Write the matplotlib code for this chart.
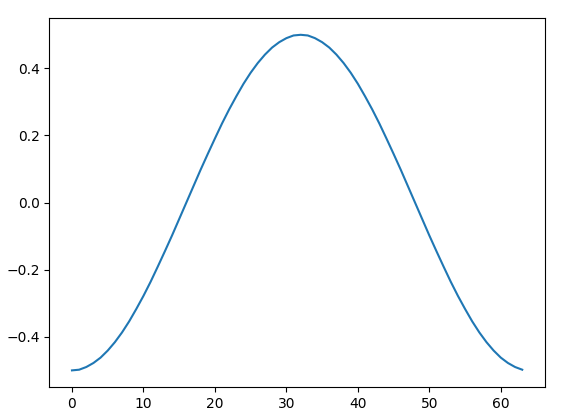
import matplotlib
matplotlib.use("Agg")
import matplotlib.pyplot as plt

# valeurs, indice 0 à 63
samples = list(range(64))
values = [
    -0.500, -0.498, -0.490, -0.478, -0.462, -0.441, -0.416, -0.387,
    -0.354, -0.317, -0.278, -0.236, -0.191, -0.145, -0.098, -0.049,
    0.000, 0.049, 0.098, 0.145, 0.191, 0.236, 0.278, 0.317,
    0.354, 0.387, 0.416, 0.441, 0.462, 0.478, 0.490, 0.498,
    0.500, 0.498, 0.490, 0.478, 0.462, 0.441, 0.416, 0.387,
    0.354, 0.317, 0.278, 0.236, 0.191, 0.145, 0.098, 0.049,
    0.000, -0.049, -0.098, -0.145, -0.191, -0.236, -0.278, -0.317,
    -0.354, -0.387, -0.416, -0.441, -0.462, -0.478, -0.490, -0.498,
]

fig = plt.figure(figsize=(5.82, 4.19), dpi=100)
plt.plot(samples, values)
plt.subplots_adjust(left=0.085, right=0.936, bottom=0.076, top=0.957)
plt.savefig("out.png", dpi=100)
